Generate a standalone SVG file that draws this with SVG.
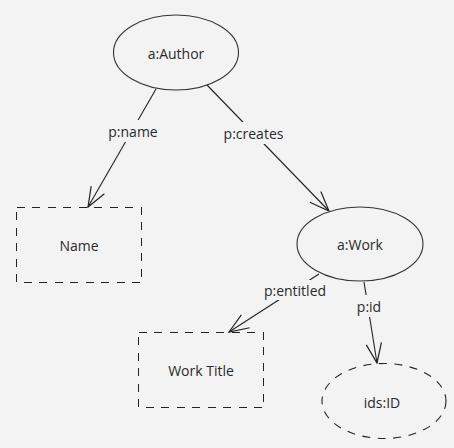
<svg xmlns="http://www.w3.org/2000/svg" width="454" height="448" viewBox="0 0 454 448">
<defs>
<style>
.bg{fill:#f3f3f3}
.node{fill:#f3f3f3;stroke:#333;stroke-width:1.1}
.dash{stroke-dasharray:8,7.5;stroke:#222}
.box{shape-rendering:crispEdges;stroke-width:1}
.edge{fill:none;stroke:#222;stroke-width:1.1}
.t{font-family:"Open Sans","Noto Sans","DejaVu Sans",sans-serif;font-size:14px;fill:#2a2a2a;text-anchor:middle;dominant-baseline:central}
.lb{fill:#f3f3f3;stroke:none}
</style>
<marker id="arr" markerUnits="userSpaceOnUse" markerWidth="24" markerHeight="24" viewBox="-20 -10 22 20" refX="0" refY="0" orient="auto" overflow="visible">
<path d="M-18,-7 L0,0 L-18,7" fill="none" stroke="#222" stroke-width="1.1"/>
</marker>
</defs>
<rect class="bg" x="0" y="0" width="454" height="448"/>
<g id="connectors">
<line class="edge" x1="156" y1="89" x2="88" y2="207" marker-end="url(#arr)"/>
<line class="edge" x1="207" y1="85" x2="329" y2="211" marker-end="url(#arr)"/>
<line class="edge" x1="319" y1="274" x2="229" y2="332" marker-end="url(#arr)"/>
<line class="edge" x1="364" y1="282" x2="377" y2="363" marker-end="url(#arr)"/>
<rect class="lb" x="106" y="120" width="54" height="22"/>
<text class="t" x="133" y="131">p:name</text>
<rect class="lb" x="222" y="122" width="63" height="22"/>
<text class="t" x="253.5" y="133">p:creates</text>
<rect class="lb" x="262" y="280" width="66" height="20"/>
<text class="t" x="295" y="290">p:entitled</text>
<rect class="lb" x="355" y="295" width="28" height="22"/>
<text class="t" x="369" y="306">p:id</text>
</g>
<g id="author">
<ellipse class="node" cx="176" cy="52.5" rx="62.5" ry="37.5"/>
<text class="t" x="176" y="53">a:Author</text>
</g>
<g id="name">
<rect class="node dash box" x="16.5" y="207.5" width="125" height="75"/>
<text class="t" x="79" y="245">Name</text>
</g>
<g id="work">
<ellipse class="node" cx="360" cy="244" rx="63" ry="37"/>
<text class="t" x="360" y="244">a:Work</text>
</g>
<g id="worktitle">
<rect class="node dash box" x="138.5" y="332.5" width="125" height="75"/>
<text class="t" x="201" y="370.5">Work Title</text>
</g>
<g id="id">
<ellipse class="node dash" cx="384" cy="401" rx="62" ry="37.5"/>
<text class="t" x="382" y="402">ids:ID</text>
</g>
</svg>
